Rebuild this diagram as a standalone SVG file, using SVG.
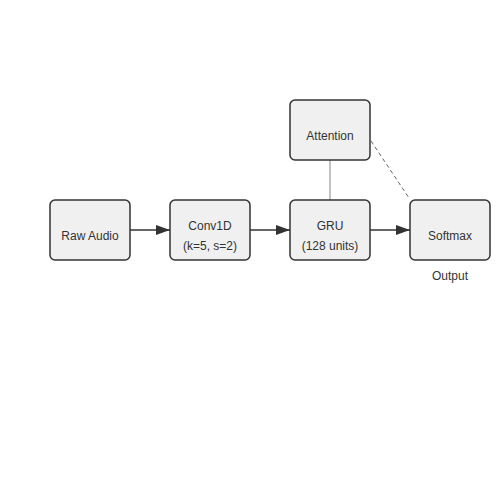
<svg xmlns="http://www.w3.org/2000/svg" width="500" height="500" viewBox="0 0 500 500">
<style>
.node rect{fill:#f0f0f0;stroke:#333;stroke-width:1.5}
text{font-family:"Liberation Sans",Arial,sans-serif;font-size:12px;fill:#333;text-anchor:middle}
.edge{stroke:#333;stroke-width:1.5;fill:none}
.thin{stroke:#999;stroke-width:1.2;fill:none}
.dash{stroke:#666;stroke-width:1;fill:none;stroke-dasharray:4,3}
</style>
<defs>
<marker id="arr" markerWidth="14" markerHeight="10" refX="14" refY="5" orient="auto" markerUnits="userSpaceOnUse">
<path d="M0,0 L14,5 L0,10 Z" fill="#333"/>
</marker>
</defs>
<rect width="500" height="500" fill="#fff"/>
<g id="connectors">
<line class="edge" x1="130" y1="230" x2="170" y2="230" marker-end="url(#arr)"/>
<line class="edge" x1="250" y1="230" x2="290" y2="230" marker-end="url(#arr)"/>
<line class="edge" x1="370" y1="230" x2="410" y2="230" marker-end="url(#arr)"/>
<line class="thin" x1="330" y1="160" x2="330" y2="200"/>
<line class="dash" x1="371" y1="141" x2="409" y2="198"/>
</g>
<g id="raw" class="node"><rect x="50" y="200" width="80" height="60" rx="5"/><text x="90" y="240">Raw Audio</text></g>
<g id="conv" class="node"><rect x="170" y="200" width="80" height="60" rx="5"/><text x="210" y="230">Conv1D</text><text x="210" y="250">(k=5, s=2)</text></g>
<g id="gru" class="node"><rect x="290" y="200" width="80" height="60" rx="5"/><text x="330" y="230">GRU</text><text x="330" y="250">(128 units)</text></g>
<g id="attention" class="node"><rect x="290" y="100" width="80" height="60" rx="5"/><text x="330" y="140">Attention</text></g>
<g id="softmax" class="node"><rect x="410" y="200" width="80" height="60" rx="5"/><text x="450" y="240">Softmax</text></g>
<text x="450" y="280">Output</text>
</svg>
